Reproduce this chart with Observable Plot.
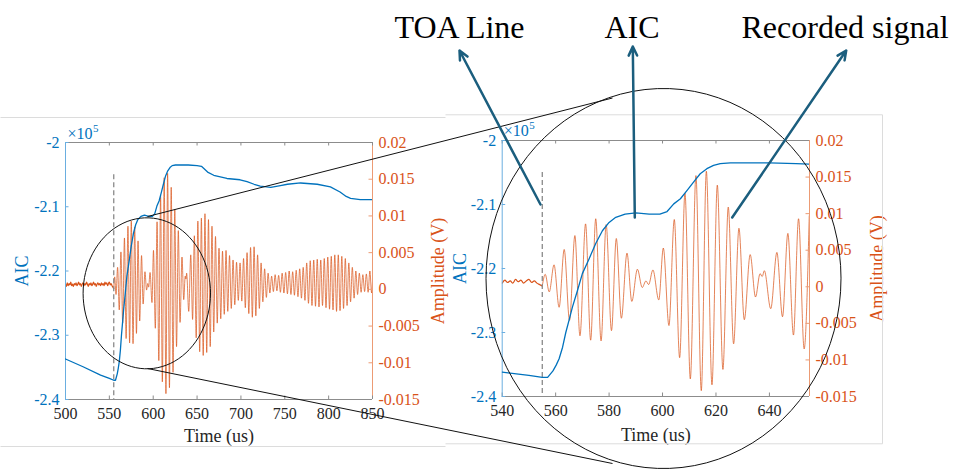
<!DOCTYPE html>
<html><head><meta charset="utf-8">
<script src="https://cdn.jsdelivr.net/npm/d3@7"></script>
<script src="https://cdn.jsdelivr.net/npm/@observablehq/plot@0.6"></script>
<style>
body{margin:0;background:#fff;}
#fig{position:relative;width:955px;height:470px;overflow:hidden;background:#fff;font-family:"Liberation Serif",serif;}
#fig svg{position:absolute;}
#fig svg text{font-family:"Liberation Serif",serif;}
</style></head><body><div id="fig"></div>
<script>
// ---------------- data ----------------
const toaTime = 555;            // TOA line position (us)
const toaTopAIC = -2.05;        // top end of dashed TOA line (x10^5)

// AIC curve, [time (us), AIC (x10^5)]
const aicPts = [[500,-2.337],[520,-2.349],[540,-2.362],[550,-2.367],[555,-2.370],[557,-2.370],[559,-2.360],[560.2,-2.351],[561.3,-2.341],[562.6,-2.323],[563.8,-2.300],[565,-2.281],[566.3,-2.260],[568.2,-2.234],[570,-2.208],[572.5,-2.185],[575,-2.161],[577.5,-2.141],[580,-2.128],[582.5,-2.120],[586,-2.115],[590,-2.113],[595,-2.115],[599,-2.115],[601.7,-2.111],[604.2,-2.099],[606.7,-2.091],[609.2,-2.078],[611.6,-2.065],[614.1,-2.052],[616.6,-2.044],[619.1,-2.039],[621.6,-2.036],[625.4,-2.035],[640,-2.035],[650,-2.036],[655,-2.037],[662,-2.046],[669,-2.051],[684,-2.056],[699,-2.058],[707,-2.061],[715,-2.065],[722,-2.068],[734,-2.070],[745,-2.067],[753,-2.065],[768,-2.063],[787,-2.065],[802,-2.069],[813,-2.077],[820,-2.084],[825,-2.087],[836,-2.089],[850,-2.089]];

// pre-arrival noise, [time (us), amplitude (V)]
const noisePts = [[500,0.0007],[501,0.0004],[502,0.0009],[503,0.0005],[504,0.0008],[505,0.0006],[506,0.0010],[507,0.0005],[508,0.0007],[509,0.0004],
[510,0.0008],[511,0.0006],[512,0.0009],[513,0.0005],[514,0.0007],[515,0.0010],[516,0.0006],[517,0.0008],[518,0.0004],[519,0.0007],
[520,0.0009],[521,0.0005],[522,0.0008],[523,0.0006],[524,0.0010],[525,0.0007],[526,0.0004],[527,0.0008],[528,0.0006],[529,0.0009],
[530,0.0005],[531,0.0007],[532,0.0010],[533,0.0006],[534,0.0008],[535,0.0004],[536,0.0007],[537,0.0009],[538,0.0006],[539,0.0008],
[540,0.0005],[541,0.0009],[542,0.0006],[543,0.0008],[544,0.0005],[545,0.0010],[546,0.0007],[547,0.0009],[548,0.0005],[549,0.0008],
[550,0.0010],[551,0.0006],[552,0.0008],[553,0.0005],[554,0.0003],[555,0.0001]];

// recorded wave extrema after arrival, [time (us), amplitude (V)]
const wavePts = [[555,0.0001],[556.1,0.0017],[557.6,-0.0007],[559.4,0.0030],[561.3,-0.0028],[563.2,0.0051],[565.2,-0.0046],[567.2,0.0070],[569.1,-0.0067],[571.2,0.0086],[573.1,-0.0073],[575.0,0.0093],[577.0,-0.0074],[578.9,0.0085],[580.9,-0.0060],[582.7,0.0066],[584.6,-0.0043],[586.7,0.0046],[588.5,-0.0020],[590.6,0.0024],[592.4,-0.0001],[593.8,0.0008],[594.8,0.0003],[596.4,0.0023],[598.6,-0.0018],[600.3,0.0053],[602.4,-0.0053],[604.4,0.0092],[606.4,-0.0097],[608.4,0.0128],[610.4,-0.0126],[612.5,0.0152],[614.5,-0.0142],[616.4,0.0158],[618.5,-0.0134],[620.5,0.0139],[622.6,-0.0113],[624.6,0.0109],[626.6,-0.0078],[628.6,0.0080],[630.6,-0.0045],[632.8,0.0044],[634.8,-0.0014],[636.5,0.0018],[637.3,0.0014],[638.1,0.0022],[640.5,-0.0030],[642.8,0.0047],[644.9,-0.0041],[646.9,0.0073],[649.0,-0.0066],[650.9,0.0093],[653.0,-0.0085],[654.9,0.0097],
[657,-0.0090],[659,0.0103],[661,-0.0086],[663,0.0095],[665,-0.0078],[667,0.0086],[669,-0.0058],[671,0.0072],[673,-0.0046],[675,0.0056],[677,-0.0040],[679,0.0052],[681,-0.0034],[683,0.0053],[685,-0.0030],[687,0.0046],[689,-0.0026],[691,0.0040],[693,-0.0021],[695,0.0037],[697,-0.0015],[699,0.0036],[701,-0.0016],[703,0.0042],[705,-0.0025],[707,0.0050],[709,-0.0033],[711,0.0057],[713,-0.0038],[715,0.0058],[717,-0.0036],[719,0.0047],[721,-0.0026],[723,0.0036],[725,-0.0017],[727,0.0028],[729,-0.0011],[731,0.0022],[733,-0.0005],[735,0.0018],[737,-0.0003],[739,0.0020],[741,-0.0002],[743,0.0019],[745,-0.0004],[747,0.0022],[749,-0.0005],[751,0.0023],[753,-0.0006],[755,0.0025],[757,-0.0007],[759,0.0024],[761,-0.0008],[763,0.0026],[765,-0.0010],[767,0.0028],[769,-0.0012],[771,0.0030],[773,-0.0015],[775,0.0036],[777,-0.0019],[779,0.0039],[781,-0.0022],[783,0.0040],[785,-0.0023],[787,0.0041],[789,-0.0024],[791,0.0040],[793,-0.0022],[795,0.0042],[797,-0.0025],[799,0.0044],[801,-0.0027],[803,0.0045],[805,-0.0028],[807,0.0047],[809,-0.0030],[811,0.0047],[813,-0.0029],[815,0.0045],[817,-0.0026],[819,0.0042],[821,-0.0022],[823,0.0036],[825,-0.0017],[827,0.0030],[829,-0.0012],[831,0.0025],[833,-0.0007],[835,0.0022],[837,-0.0004],[839,0.0020],[841,-0.0003],[843,0.0021],[845,-0.0004],[847,0.0025],[849,-0.0005],[850,0.0010]];

// axes
const aicDomain = [-2.4, -2];
const ampDomain = [-0.015, 0.02];
const aicTicks = [-2, -2.1, -2.2, -2.3, -2.4];
const ampTicks = [0.02, 0.015, 0.01, 0.005, 0, -0.005, -0.01, -0.015];
const leftXDomain = [500, 850];
const leftXTicks = [500, 550, 600, 650, 700, 750, 800, 850];
const rightXDomain = [540, 655];
const rightXTicks = [540, 560, 580, 600, 620, 640];

// texts
const xLabel = "Time (us)";
const aicLabel = "AIC";
const ampLabel = "Amplitude (V)";
const expBase = "×10", expPow = "5";

// annotation layer (figure pixel space)
const bigLabels = [{text: "TOA Line", x: 394, y: 37}, {text: "AIC", x: 604, y: 37}, {text: "Recorded signal", x: 741, y: 37}];
const arrows = [{x1: 540, y1: 204, x2: 459, y2: 50}, {x1: 634.3, y1: 217, x2: 632.3, y2: 46}, {x1: 731.7, y1: 217, x2: 845.7, y2: 50}];
const links = [{x1: 147, y1: 216, x2: 612, y2: 97.5}, {x1: 147, y1: 368, x2: 612, y2: 463}];
const ellipses = [{cx: 146.3, cy: 292.8, rx: 63.7, ry: 75.5}, {cx: 663, cy: 278, rx: 177.5, ry: 190}];
const borders = [
  {x1: 0, y1: 117, x2: 445, y2: 117}, {x1: 0, y1: 446, x2: 445, y2: 446},
  {x1: 445, y1: 114.3, x2: 882, y2: 114.3}, {x1: 445, y1: 443.3, x2: 882, y2: 443.3},
  {x1: 882, y1: 114.3, x2: 882, y2: 443.3}];

// ---------------- style ----------------
const FONT = '"Liberation Serif", serif';
const BLUE = "#0072BD", BLUE_AX = "#6aaee0";
const ORANGE = "#D95319", ORANGE_AX = "#ec9b74";
const GRAY = "#8c8c8c", DARK = "#262626", TEAL = "#1b5e7e";
const fmt = d => String(d);

const fig = document.getElementById("fig");

function panel({left, top, width, height, mL, mR, mT, mB, xDomain, xTicks, aicDx, ampDx, xLabDy, expDx, expDy}) {
  const fw = width - mL - mR, fh = height - mT - mB;
  const common = {width, height, marginLeft: mL, marginRight: mR, marginTop: mT, marginBottom: mB,
    style: {fontFamily: FONT, fontSize: "16px", background: "transparent", overflow: "visible"}};
  const inX = d => d[0] >= xDomain[0] && d[0] <= xDomain[1];

  const sig = Plot.plot({...common,
    x: {domain: xDomain, axis: null},
    y: {domain: ampDomain},
    marks: [
      Plot.line(noisePts.filter(inX), {x: d => d[0], y: d => d[1], stroke: ORANGE, strokeWidth: 1.2, curve: "monotone-x", clip: true}),
      Plot.line(wavePts.filter(inX), {x: d => d[0], y: d => d[1], stroke: ORANGE, strokeWidth: 0.85, strokeOpacity: 0.85, curve: "monotone-x", clip: true}),
      Plot.ruleX([xDomain[1]], {stroke: ORANGE_AX}),
      Plot.ruleY(ampTicks, {y: d => d, insetLeft: fw - 3.5, stroke: ORANGE_AX}),
      Plot.axisY(ampTicks, {anchor: "right", tickSize: 0, tickPadding: 6, color: ORANGE, label: null, tickFormat: fmt}),
      Plot.text([ampLabel], {text: d => d, frameAnchor: "right", rotate: -90, dx: ampDx, textAnchor: "middle", lineAnchor: "bottom", fontSize: 18, fill: ORANGE})
    ]});

  const aic = Plot.plot({...common,
    x: {domain: xDomain},
    y: {domain: aicDomain},
    marks: [
      Plot.ruleY([aicDomain[1]], {stroke: GRAY}),
      Plot.ruleY([aicDomain[0]], {stroke: GRAY}),
      Plot.ruleX(xTicks, {x: d => d, insetTop: fh - 3.5, stroke: GRAY}),
      Plot.ruleX(xTicks, {x: d => d, insetBottom: fh - 3.5, stroke: GRAY}),
      Plot.ruleY(aicTicks, {y: d => d, insetRight: fw - 3.5, stroke: BLUE_AX}),
      Plot.ruleX([xDomain[0]], {stroke: BLUE_AX}),
      Plot.ruleX([toaTime], {y1: toaTopAIC, y2: aicDomain[0], stroke: "#8a8a8a", strokeWidth: 1.3, strokeDasharray: "5,3"}),
      Plot.line(aicPts.filter(inX), {x: d => d[0], y: d => d[1], stroke: BLUE, strokeWidth: 1.3, clip: true}),
      Plot.axisX(xTicks, {anchor: "bottom", tickSize: 0, tickPadding: 8, color: DARK, label: null, tickFormat: fmt}),
      Plot.axisY(aicTicks, {anchor: "left", tickSize: 0, tickPadding: 6, color: BLUE, label: null, tickFormat: fmt}),
      Plot.text([aicLabel], {text: d => d, frameAnchor: "left", rotate: -90, dx: aicDx, textAnchor: "middle", lineAnchor: "bottom", fontSize: 18, fill: BLUE}),
      Plot.text([xLabel], {text: d => d, frameAnchor: "bottom", dy: xLabDy, textAnchor: "middle", lineAnchor: "bottom", fontSize: 18, fill: DARK}),
      Plot.text([expBase], {text: d => d, frameAnchor: "top-left", dx: expDx, dy: expDy, textAnchor: "start", lineAnchor: "bottom", fontSize: 16, fill: BLUE}),
      Plot.text([expPow], {text: d => d, frameAnchor: "top-left", dx: expDx + 25.5, dy: expDy - 7, textAnchor: "start", lineAnchor: "bottom", fontSize: 11, fill: BLUE})
    ]});

  for (const s of [sig, aic]) {
    s.style.left = left + "px";
    s.style.top = top + "px";
    fig.appendChild(s);
  }
}

panel({left: 0, top: 110, width: 445, height: 340, mL: 65, mR: 73, mT: 32, mB: 51,
  xDomain: leftXDomain, xTicks: leftXTicks, aicDx: -38, ampDx: 71, xLabDy: 42, expDx: 2, expDy: -4});
panel({left: 445, top: 100, width: 445, height: 350, mL: 56.7, mR: 81, mT: 40, mB: 54,
  xDomain: rightXDomain, xTicks: rightXTicks, aicDx: -36.7, ampDx: 73, xLabDy: 44, expDx: 1.5, expDy: -5});

// annotation overlay
const ellipsePaths = ellipses.flatMap((e, k) => d3.range(0, 360, 4).map(a => ({k, x: e.cx + e.rx * Math.cos(a * Math.PI / 180), y: e.cy + e.ry * Math.sin(a * Math.PI / 180)})));
const overlay = Plot.plot({
  width: 955, height: 470, margin: 0,
  x: {domain: [0, 955], range: [0, 955], axis: null},
  y: {domain: [0, 470], range: [0, 470], axis: null},
  style: {fontFamily: FONT, background: "transparent", overflow: "visible", pointerEvents: "none"},
  marks: [
    Plot.link(borders, {x1: "x1", y1: "y1", x2: "x2", y2: "y2", stroke: "#dcdcdc", strokeWidth: 1}),
    Plot.line(ellipsePaths, {x: "x", y: "y", z: "k", curve: "linear-closed", stroke: "#111", strokeWidth: 1}),
    Plot.link(links, {x1: "x1", y1: "y1", x2: "x2", y2: "y2", stroke: "#111", strokeWidth: 1}),
    Plot.arrow(arrows, {x1: "x1", y1: "y1", x2: "x2", y2: "y2", stroke: TEAL, strokeWidth: 2.5, headLength: 6, headAngle: 50}),
    Plot.text(bigLabels, {x: "x", y: "y", text: "text", fontSize: 32, textAnchor: "start", lineAnchor: "bottom", fill: "#000"})
  ]});
overlay.style.left = "0px";
overlay.style.top = "0px";
fig.appendChild(overlay);
</script></body></html>
